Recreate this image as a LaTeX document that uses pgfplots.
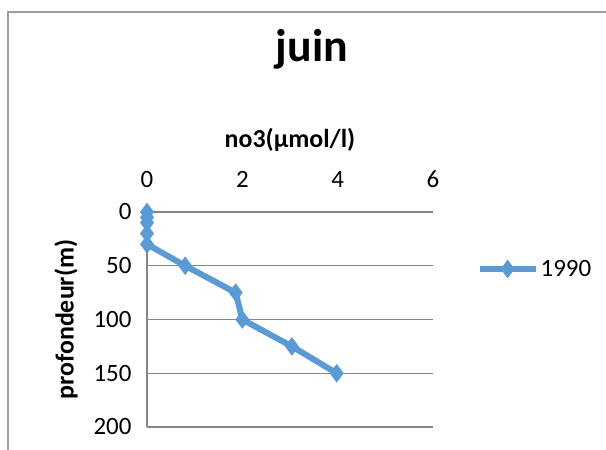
\documentclass[border=0pt]{standalone}
\usepackage{fontspec}
\setmainfont{Carlito}
\usepackage{pgfplots}
\pgfplotsset{compat=1.18}
\definecolor{serieblue}{RGB}{91,155,213}
\definecolor{gridgray}{RGB}{134,134,134}
\begin{document}
\begin{tikzpicture}
\useasboundingbox (0bp,0bp) rectangle (606bp,450bp);
% chart frame
\draw[gridgray!80, line width=1.2bp] (8bp,-5bp) -- (8bp,438bp) -- (615bp,438bp);
% title
\node[anchor=base, font=\bfseries\fontsize{46}{46}\selectfont] at (312bp,388bp) {juin};
\begin{axis}[
  at={(147bp,238bp)}, anchor=north west,
  scale only axis, width=286bp, height=215bp,
  xmin=0, xmax=6, ymin=0, ymax=200,
  y dir=reverse,
  xtick={0,2,4,6}, ytick={0,50,100,150,200},
  xticklabel pos=upper,
  axis line style={draw=none},
  major tick length=0pt,
  ymajorgrids,
  grid style={gridgray, line width=1.2bp},
  extra x ticks={0}, extra x tick labels={},
  extra x tick style={xmajorgrids=true},
  /pgf/number format/assume math mode=true,
  tick label style={font=\fontsize{25}{25}\selectfont},
  xticklabel style={yshift=21bp},
  yticklabel style={xshift=-12bp},
  xlabel={no3(µmol/l)},
  xlabel style={at={(axis description cs:0.5,1.335)}, anchor=center, font=\bfseries\fontsize{26}{26}\selectfont},
  ylabel={profondeur(m)},
  ylabel style={at={(axis description cs:-0.283,0.5)}, anchor=center, font=\bfseries\fontsize{26}{26}\selectfont},
  legend style={at={(axis description cs:1.152,0.735)}, anchor=west, draw=none, fill=none,
    font=\fontsize{25}{25}\selectfont, inner sep=0pt},
  legend image code/.code={\draw[mark repeat=2, mark phase=2] plot coordinates {(0bp,0bp) (28bp,0bp) (56bp,0bp)};},
]
\addplot[serieblue, line width=6bp, mark=diamond*, mark size=8.5bp,
  mark options={solid, fill=serieblue, draw=serieblue, line width=1bp}]
  coordinates {(0,0) (0,5) (0,10) (0,20) (0,30) (0.8,50) (1.86,75) (2.0,100) (3.04,125) (3.98,150)};
\addlegendentry{1990}
\end{axis}
\end{tikzpicture}
\end{document}
